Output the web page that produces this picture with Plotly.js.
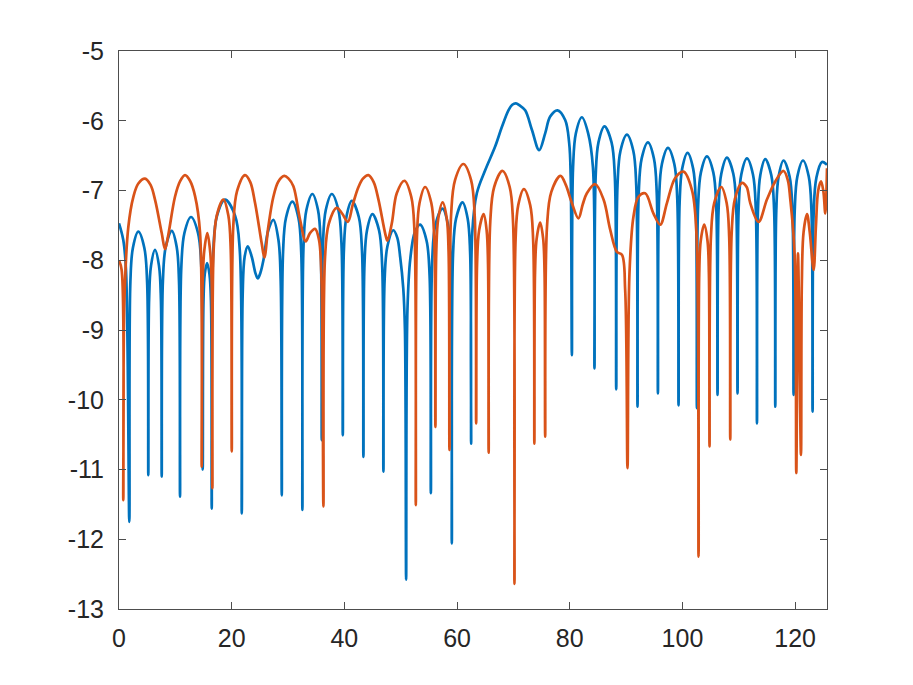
<!DOCTYPE html>
<html>
<head>
<meta charset="utf-8">
<script src="https://cdn.plot.ly/plotly-3.0.1.min.js"></script>
<style>html,body{margin:0;padding:0;background:#fff;}#chart{width:913px;height:685px;}</style>
</head>
<body>
<div id="chart"></div>
<script>
// Series 1 (blue) points [x, y]
const bluePts = [
[0,-7.47],[0.76,-7.71],[1.24,-8.14],[1.83,-11.75],
[2.02,-8.31],[2.47,-7.82],[3.43,-7.59],[4.49,-7.82],[4.99,-8.31],[5.20,-11.08],
[5.34,-8.57],[5.68,-8.08],[6.39,-7.85],[7.10,-8.08],[7.44,-8.57],[7.58,-11.10],
[7.79,-8.30],[8.29,-7.81],[9.36,-7.58],[10.24,-7.81],[10.65,-8.30],[10.83,-11.39],
[11.06,-8.10],[11.61,-7.61],[12.78,-7.38],[14.03,-7.61],[14.61,-8.10],[14.86,-11.00],
[14.99,-8.6],[15.22,-8.2],[15.63,-8.04],[16.06,-8.2],[16.33,-8.6],[16.46,-11.56],
[16.74,-7.85],[17.40,-7.36],[18.82,-7.13],[20.60,-7.36],[21.43,-7.85],[21.79,-11.63],
[21.95,-8.5],[22.3,-7.95],[22.85,-7.80],[23.56,-7.95],[24.2,-8.18],[24.63,-8.26],[25.1,-8.18],[25.63,-8.0],[26.5,-7.57],[27.40,-7.42],[28.3,-7.71],[28.7,-8.3],[28.89,-11.37],
[29.12,-7.88],[29.64,-7.39],[30.77,-7.16],[31.84,-7.39],[32.34,-7.88],[32.55,-11.58],
[32.76,-7.77],[33.26,-7.28],[34.32,-7.05],[35.32,-7.28],[35.79,-7.77],[35.99,-10.58],
[36.20,-7.77],[36.70,-7.28],[37.77,-7.05],[38.94,-7.28],[39.49,-7.77],[39.72,-10.51],
[39.91,-7.87],[40.36,-7.38],[41.32,-7.15],[42.56,-7.38],[43.13,-7.87],[43.38,-10.82],
[43.57,-8.06],[44.02,-7.57],[44.98,-7.34],[46.15,-7.57],[46.70,-8.06],[46.93,-11.03],
[47.14,-8.29],[47.64,-7.80],[48.70,-7.57],[49.4,-7.68],[49.9,-7.95],[50.45,-8.4],[50.75,-9.0],[50.96,-12.58],
[51.2,-8.7],[51.7,-7.98],[52.5,-7.6],[53.44,-7.49],[54.59,-7.72],[55.12,-8.21],[55.35,-11.34],
[55.60,-7.98],[56.17,-7.49],[57.40,-7.26],[58.40,-7.49],[58.87,-7.98],[59.07,-12.06],
[59.30,-7.89],[59.83,-7.40],[60.96,-7.17],[61.88,-7.40],[62.32,-7.89],[62.50,-10.63],
[62.7,-7.6],[63.51,-7.04],[64.99,-6.71],[66.76,-6.37],[67.95,-6.09],[69.12,-5.85],[69.8,-5.77],[70.44,-5.75],[71.1,-5.78],[72.09,-5.85],[73.28,-6.13],[74.57,-6.42],[75.64,-6.18],[76.53,-5.94],[77.82,-5.85],[79.19,-5.99],[79.90,-6.32],[80.17,-6.8],[80.38,-9.36],[80.59,-6.67],[81.09,-6.18],[82.16,-5.95],[83.27,-6.18],[84.12,-6.67],[84.39,-9.55],
[84.60,-6.80],[85.10,-6.31],[86.17,-6.08],[87.42,-6.31],[88.00,-6.80],[88.25,-9.85],
[88.48,-6.92],[89.01,-6.43],[90.15,-6.20],[91.28,-6.43],[91.80,-6.92],[92.03,-10.10],
[92.25,-7.03],[92.77,-6.54],[93.88,-6.31],[94.94,-6.54],[95.44,-7.03],[95.65,-9.91],
[95.86,-7.11],[96.36,-6.62],[97.43,-6.39],[98.56,-6.62],[99.08,-7.11],[99.31,-10.08],
[99.50,-7.18],[99.95,-6.69],[100.91,-6.46],[101.91,-6.69],[102.37,-7.18],[102.57,-10.12],
[102.78,-7.23],[103.28,-6.74],[104.35,-6.51],[105.48,-6.74],[106.00,-7.23],[106.23,-9.93],
[106.43,-7.25],[106.90,-6.76],[107.90,-6.53],[109.03,-6.76],[109.55,-7.25],[109.78,-9.91],
[109.98,-7.26],[110.45,-6.77],[111.45,-6.54],[112.52,-6.77],[113.02,-7.26],[113.23,-10.34],
[113.41,-7.27],[113.82,-6.78],[114.70,-6.55],[115.77,-6.78],[116.27,-7.27],[116.48,-10.10],
[116.66,-7.29],[117.07,-6.80],[117.95,-6.57],[119.02,-6.80],[119.52,-7.29],[119.73,-9.93],
[119.93,-7.29],[120.40,-6.80],[121.40,-6.57],[122.42,-6.80],[122.90,-7.29],[123.10,-10.17],
[123.30,-7.31],[123.77,-6.82],[124.77,-6.59],[125.66,-6.63]
];

// Series 2 (orange) points [x, y]
const orangePts = [
[0,-8.00],[0.47,-8.14],[0.76,-11.44],[0.95,-8.6],[1.66,-7.52],[2.55,-7.09],[3.43,-6.90],[4.62,-6.83],[5.6,-6.92],[6.39,-7.13],[7.58,-7.61],[8.17,-7.84],[8.76,-7.63],[9.94,-7.09],[10.83,-6.87],[11.72,-6.78],[12.6,-6.86],[13.5,-7.08],[14.38,-7.6],[14.68,-10.96],
[14.85,-8.3],[15.15,-7.85],[15.68,-7.61],[16.15,-7.85],[16.45,-8.3],[16.57,-11.27],
[16.80,-7.85],[17.35,-7.36],[18.52,-7.13],[19.41,-7.36],[19.83,-7.85],[20.01,-10.74],
[20.29,-7.50],[20.95,-7.01],[22.37,-6.78],[23.3,-6.88],[24.15,-7.18],[25.33,-7.76],[25.80,-7.96],[26.5,-7.52],[27.4,-7.09],[28.29,-6.87],[29.35,-6.79],
[30.1,-6.83],[30.95,-6.94],[32.14,-7.42],[33.15,-7.73],[33.9,-7.61],[34.80,-7.55],[35.5,-7.71],[35.95,-8.3],[36.28,-11.53],
[36.56,-7.97],[37.23,-7.48],[38.65,-7.25],[39.6,-7.33],[40.61,-7.45],[41.5,-7.2],[42.5,-6.95],[43.3,-6.83],[44.27,-6.78],
[45.2,-6.88],[46.05,-7.13],[47.23,-7.61],[47.64,-7.72],[48.42,-7.47],[49.3,-7.04],[50.66,-6.86],[51.87,-7.09],[52.44,-7.58],[52.68,-11.51],
[52.88,-7.67],[53.34,-7.18],[54.33,-6.95],[55.43,-7.18],[55.94,-7.67],[56.16,-10.39],
[56.31,-7.89],[56.67,-7.40],[57.44,-7.17],[58.17,-7.40],[58.50,-7.89],[58.65,-10.72],
[58.95,-7.34],[59.64,-6.85],[61.13,-6.62],[62.49,-6.85],[63.12,-7.34],[63.39,-10.34],
[63.55,-8.06],[63.92,-7.57],[64.72,-7.34],[65.25,-7.57],[65.50,-8.06],[65.61,-10.76],
[65.90,-7.44],[66.59,-6.95],[68.06,-6.72],[69.34,-6.95],[69.93,-7.44],[70.19,-12.64],
[70.39,-7.70],[70.86,-7.21],[71.86,-6.98],[72.98,-7.21],[73.50,-7.70],[73.72,-10.63],
[73.84,-8.18],[74.13,-7.69],[74.75,-7.46],[75.28,-7.69],[75.53,-8.18],[75.64,-10.53],
[75.97,-7.51],[76.73,-7.02],[78.36,-6.79],[79.3,-6.92],[80.38,-7.18],[81.55,-7.40],[82.3,-7.2],[83.04,-7.04],[84.52,-6.91],
[86.0,-7.13],[87.18,-7.56],[88.37,-7.88],[89.26,-7.92],[89.84,-8.43],[90.25,-10.98],
[90.6,-8.19],[91.3,-7.38],[92.2,-7.09],[93.39,-7.04],[94.87,-7.33],[96.06,-7.49],[97.25,-7.18],[98.72,-6.82],[100.19,-6.73],[101.68,-6.99],[102.45,-7.56],[102.86,-12.25],
[102.98,-8.2],[103.25,-7.72],[103.87,-7.49],[104.45,-7.72],[104.70,-8.2],[104.81,-10.67],
[105.06,-7.67],[105.64,-7.18],[106.89,-6.95],[107.85,-7.18],[108.30,-7.67],[108.49,-10.57],
[108.74,-7.61],[109.32,-7.12],[110.56,-6.89],[111.4,-6.95],[112.04,-7.18],[113.51,-7.45],[115.0,-7.13],[116.48,-6.87],[117.95,-6.72],
[118.7,-6.85],[119.15,-7.13],[119.9,-7.9],[120.21,-11.05],[120.51,-7.90],[121.04,-10.79],[121.2,-8.3],[121.5,-7.6],[122.11,-7.34],[122.6,-7.6],[123.28,-8.14],[123.7,-7.5],[124.1,-7.0],[124.59,-6.87],[125.0,-7.0],[125.36,-7.33],[125.66,-6.68]
];

const xTickVals = [0, 20, 40, 60, 80, 100, 120];
const xTickText = ['0', '20', '40', '60', '80', '100', '120'];
const yTickVals = [-13, -12, -11, -10, -9, -8, -7, -6, -5];
const yTickText = ['-13', '-12', '-11', '-10', '-9', '-8', '-7', '-6', '-5'];
const xRange = [0, 125.66];
const yRange = [-13, -5];

const traces = [
  {x: bluePts.map(p => p[0]), y: bluePts.map(p => p[1]), type: 'scatter', mode: 'lines',
   line: {color: '#0072BD', width: 2.7, shape: 'spline', smoothing: 1}, hoverinfo: 'skip'},
  {x: orangePts.map(p => p[0]), y: orangePts.map(p => p[1]), type: 'scatter', mode: 'lines',
   line: {color: '#D95319', width: 2.7, shape: 'spline', smoothing: 1}, hoverinfo: 'skip'}
];

const axisCommon = {
  showgrid: false, zeroline: false, showline: true, linecolor: '#4d4d4d', linewidth: 1,
  mirror: 'ticks', ticks: 'inside', ticklen: 7, tickwidth: 1, tickcolor: '#4d4d4d',
  tickfont: {family: 'Liberation Sans, Arial, sans-serif', size: 25, color: '#262626'},
  fixedrange: true
};

const layout = {
  width: 913, height: 685,
  margin: {l: 119, r: 86, t: 51, b: 76, pad: 0},
  paper_bgcolor: '#ffffff', plot_bgcolor: '#ffffff',
  showlegend: false,
  xaxis: Object.assign({}, axisCommon, {range: xRange, tickmode: 'array', tickvals: xTickVals, ticktext: xTickText, ticklabelstandoff: 7}),
  yaxis: Object.assign({}, axisCommon, {range: yRange, tickmode: 'array', tickvals: yTickVals, ticktext: yTickText, ticklabelstandoff: 9})
};

Plotly.newPlot('chart', traces, layout, {staticPlot: true, displayModeBar: false});
</script>
</body>
</html>
